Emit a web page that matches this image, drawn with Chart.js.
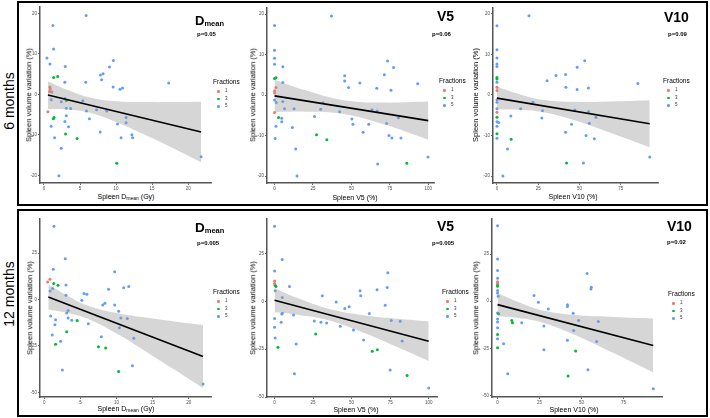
<!DOCTYPE html>
<html>
<head>
<meta charset="utf-8">
<script src="https://cdn.jsdelivr.net/npm/chart.js@4.4.0/dist/chart.umd.min.js"></script>
<style>
  body { margin: 0; background: #fff; font-family: "Liberation Sans", Arial, sans-serif; }
  #wrap { position: relative; width: 710px; height: 418px; overflow: hidden; }
  .box { position: absolute; border: 2px solid #000; box-sizing: border-box; }
  .t { position: absolute; white-space: nowrap; line-height: 1; color: #000; }
  .c { transform: translate(-50%, -50%); }
  .rot { transform: translate(-50%, -50%) rotate(-90deg); }
  canvas { position: absolute; }
  .dot { position: absolute; width: 2.6px; height: 2.6px; border-radius: 50%; }
</style>
</head>
<body>
<div id="wrap">
  <div class="box" style="left:17px;top:1px;width:691px;height:205px"></div>
  <div class="box" style="left:17px;top:209px;width:691px;height:208px"></div>
  <div class="t rot" style="left:9px;top:101px;font-size:14px">6 months</div>
  <div class="t rot" style="left:9px;top:294px;font-size:14px">12 months</div>
</div>
<script>
// tick labels
const m6YTicks = [20, 10, 0, -10, -20];
const m12YTicks = [25, 0, -25, -50];
const dmeanTicks = [0, 5, 10, 15, 20];
const v5Ticks = [0, 25, 50, 75, 100];
const v10Ticks = [0, 25, 50, 75];

// 6 months - Dmean
const m6DmeanX = [5.85,1.24,1.34,0.41,0.83,2.95,9.63,9.08,8.2,7.83,8.0,1.34,1.9,2.9,5.8,9.6,10.55,10.9,17.3,0.83,0.88,0.78,1.1,1.0,0.55,2.4,2.9,3.1,5.4,3.1,3.7,5.9,7.3,8.7,1.4,1.3,3.1,6.3,2.9,3.4,1.0,11.4,11.4,10.2,7.8,3.0,4.6,1.47,10.7,12.2,12.3,2.4,10.1,2.07,21.8];
const m6DmeanY = [19.5,17.0,11.2,9.0,7.5,6.9,8.4,6.8,5.1,4.8,3.6,4.2,4.4,3.0,3.0,1.8,1.3,1.6,2.8,1.8,1.4,0.7,0.6,-1.3,-4.3,-1.8,-1.0,-1.5,-1.6,-3.4,-3.5,-4.1,-3.8,-4.1,-5.7,-6.0,-5.3,-6.0,-6.7,-8.0,-7.9,-5.7,-7.0,-7.3,-9.3,-9.8,-10.9,-10.7,-10.7,-10.0,-10.7,-13.3,-17.0,-20.1,-15.4];
const m6DmeanF = [5,5,5,5,5,5,5,5,5,5,5,3,3,5,5,5,5,5,5,1,1,1,1,5,1,5,5,3,5,5,5,5,5,5,3,3,5,5,5,5,5,5,5,5,5,3,3,5,5,5,5,5,3,5,5];
const m6DmeanFitX = [0.55, 21.8];
const m6DmeanFitY = [-0.16, -9.3];
const m6DmeanBandX = [0.55, 3, 6.5, 10, 14, 18, 21.8];
const m6DmeanBandUp = [3.2, 1.3, -0.8, -1.7, -1.9, -1.9, -1.8];
const m6DmeanBandLo = [-3.6, -3.7, -4.6, -6.8, -10.0, -13.4, -16.8];

// 6 months - V5
const m6V5X = [37,0,0,0,0,5.4,0.9,0,5.4,0.9,0,0,0,1.1,5.4,0,6.5,2.6,4.7,4.7,0.9,11.6,0.4,13.8,14.6,12.7,26,27.3,30,31.6,34,45.6,45.6,48.2,42.4,50.3,51,55.5,57.6,61.3,63.4,66.5,67.1,71.4,73.5,72.9,74.4,75.7,76.3,77.4,80.6,82.2,66.7,86,93.1,99.8];
const m6V5Y = [19.5,17.2,11.1,9.1,7.6,7.0,4.3,4.1,3.1,1.9,1.1,0.5,-1.2,-1.8,-1.6,-4.3,-3.4,-5.5,-5.7,-6.6,-7.7,-8.0,-10.7,-13.3,-20,-3.4,-5.3,-9.8,-3.5,-1.9,-11.0,4.8,3.5,1.9,-4.1,-5.9,-7.2,3.0,-9.2,-7.2,-3.6,1.7,-17,5.0,8.4,-7.0,-10.0,1.2,-10.6,6.8,-5.6,-10.6,-3.9,-16.8,2.8,-15.3];
const m6V5F = [5,5,5,5,5,5,3,3,5,1,1,1,5,5,5,1,5,3,5,5,5,5,5,5,5,5,5,3,5,5,3,5,5,5,5,5,5,5,5,5,5,5,5,5,5,5,5,5,5,5,5,5,5,3,5,5];
const m6V5FitX = [0, 100];
const m6V5FitY = [-0.2, -6.3];
const m6V5BandX = [0, 20, 45, 70, 100];
const m6V5BandUp = [3.8, 1.2, -1.25, -1.85, -1.6];
const m6V5BandLo = [-4.2, -4.1, -4.65, -7.1, -11.0];

// 6 months - V10
const m6V10X = [19.4,0,0,0,0,0,0,0,0,0,0,0,0,0,0,0,0,0,0,0,1,8.4,8.6,6.4,3.6,14.4,21.8,27.6,27.2,30.4,35.8,41.6,41.8,41.6,45.2,42.2,47.2,48.6,48.6,52.4,53.2,54,55.4,55.6,56,59,60,85.4,92.6];
const m6V10Y = [19.5,17.0,11.1,9.1,7.6,7.0,4.3,3.9,3.1,1.9,1.1,-1.2,-1.8,-3.4,-4.3,-5.5,-6.6,-7.7,-9.6,-10.7,-6.8,-5.2,-10.9,-13.3,-20,-3.4,-1.8,-3.9,-5.7,3.5,4.8,5.0,1.9,-9.2,-7.2,-16.8,-3.7,6.8,1.3,-16.8,8.4,-10,1.7,-4.1,-7,-10.8,-5.5,2.8,-15.3];
const m6V10F = [5,5,5,5,5,5,3,3,5,1,1,5,5,5,1,3,5,5,3,5,5,5,3,5,5,5,5,5,5,5,5,5,5,5,5,3,5,5,5,5,5,5,5,5,5,5,5,5,5];
const m6V10FitX = [0, 92.6];
const m6V10FitY = [-0.8, -7.1];
const m6V10BandX = [0, 15, 27.5, 45, 70, 92.6];
const m6V10BandUp = [2.0, 0.0, -1.2, -1.7, -1.6, -1.3];
const m6V10BandLo = [-3.6, -3.7, -4.2, -6.0, -9.5, -12.9];

// 12 months - Dmean
const m12DmeanX = [1.33,2.9,1.24,9.75,0.46,0.78,1.3,1.9,3.0,1.15,0.8,8.9,11.0,11.7,5.5,5.9,5.2,3.0,8.1,8.4,9.75,10.3,10.6,11.5,10.4,0.87,1.56,3.3,3.1,3.3,3.8,4.55,1.47,6.1,1.1,3.1,2.25,1.56,7.9,7.5,8.5,12.4,12.2,2.5,10.3,22.0];
const m12DmeanY = [39.5,22.0,16.3,15.0,9.5,10.9,8.6,7.7,7.9,5.9,4.6,5.5,6.4,7.1,3.2,2.9,-0.4,2.3,-3.0,-2.0,-2.9,-6.3,-10,-10.2,-15.2,-8.8,-10.9,-5.9,-7.3,-10,-11.1,-11.3,-13.6,-13,-19.1,-17.3,-22.5,-24.1,-20,-25.4,-26.1,-20.9,-35.7,-37.9,-38.8,-45.5];
const m12DmeanF = [5,5,5,5,1,1,3,3,5,5,5,5,5,5,5,5,5,5,5,5,5,5,5,5,5,5,5,5,5,5,5,3,5,5,5,3,5,3,5,3,3,5,5,5,3,5];
const m12DmeanFitX = [0.55, 22];
const m12DmeanFitY = [1.4, -30.7];
const m12DmeanBandX = [0.55, 3, 6, 10, 14, 18, 22];
const m12DmeanBandUp = [8.1, 2.5, -3.2, -7.3, -9.7, -11.8, -13.7];
const m12DmeanBandLo = [-5.3, -7.0, -10.4, -18.3, -27.8, -37.7, -47.7];

// 12 months - V5
const m12V5X = [0,5,0,0,0,0.4,0.9,0.4,9.7,5,31,40,45.6,48.4,55.5,55.9,66.5,73.5,73.1,71.8,61.5,75.7,81.5,82.8,5,4.7,12.3,0,4.3,0,25.8,30.1,33.8,42.6,51.2,26.7,0.4,14,2.2,57.8,63.4,66.7,75,12.9,86,100];
const m12V5Y = [39.4,22,16,10.8,9.4,8.5,7.8,5.6,7.8,2.1,3,-0.2,-3.6,-2.8,5.6,3,6.1,15.1,7.3,-1.9,-6.3,-10,-10.4,-20.7,-6.1,-6.6,-7.1,-8.9,-10.9,-13.5,-10.2,-10.9,-11.3,-13,-14.9,-17,-19.1,-22.2,-24,-20.1,-26,-25.3,-35.8,-37.8,-38.7,-45.3];
const m12V5F = [5,5,5,1,1,3,3,5,5,5,5,5,5,5,5,5,5,5,5,5,5,5,5,5,5,5,5,5,5,5,5,5,5,5,5,3,5,5,3,5,3,3,5,5,3,5];
const m12V5FitX = [0, 100];
const m12V5FitY = [0.7, -20.8];
const m12V5BandX = [0, 15, 35.5, 60, 80, 100];
const m12V5BandUp = [7.0, 1.8, -3.9, -7.4, -9.0, -10.4];
const m12V5BandLo = [-5.6, -6.9, -9.9, -17.0, -24.0, -31.2];

// 12 months - V10
const m12V10X = [0,0,0,0,0,0,0,0,0,0,0.4,21.7,24.3,30.2,41.6,41.6,45,48.3,45.3,53.3,55.6,55.8,60,59,41.6,0,0.6,0,0,0,0,0,0,3.6,8.5,8.9,14.4,27.6,27.6,46.5,53.8,6.1,42,92.7];
const m12V10Y = [40.1,22.4,16.3,12.2,10.4,9.7,8.7,8,5.7,4.4,2.7,3,-0.5,-4.1,-1.9,-2.8,-6.4,-10.2,-15.5,14.8,6.5,7.4,-10.8,-21.4,-20.8,-6.2,-6.7,-9.4,-11.1,-14.1,-17.7,-20,-24.7,-22.6,-10.2,-11.5,-11.5,-13.2,-25.8,-26.5,-36.4,-38.5,-39.8,-46.5];
const m12V10F = [5,5,5,5,1,1,3,3,5,5,5,5,5,5,5,5,5,5,5,5,5,5,5,5,5,5,3,5,5,5,3,5,3,5,3,3,5,5,5,3,5,5,3,5];
const m12V10FitX = [0, 92.7];
const m12V10FitY = [-1.8, -23.5];
const m12V10BandX = [0, 12, 25.6, 45, 70, 92.7];
const m12V10BandUp = [4.4, -0.3, -4.6, -7.2, -8.4, -9.2];
const m12V10BandLo = [-8.0, -8.9, -11.0, -17.5, -27.9, -37.8];

const fractions = [1, 3, 5];
const fracColors = { 1: '#F8766D', 3: '#00BA38', 5: '#619CFF' };
const FONT = '"Liberation Sans", Arial, sans-serif';

// chart area (page px) and text placement for each panel
const panels = [
  { L: 40, T: 6, R: 212, B: 183, xMin: -0.55, xMax: 23.17, yMin: -21.9, yMax: 21.6,
    xTicks: dmeanTicks, yTicks: m6YTicks, xs: m6DmeanX, ys: m6DmeanY, fs: m6DmeanF,
    fitX: m6DmeanFitX, fitY: m6DmeanFitY, bandX: m6DmeanBandX, bandUp: m6DmeanBandUp, bandLo: m6DmeanBandLo,
    title: 'D', sub: 'mean', tX: 195, tY: 11.5, tSize: 13, p: 'p=0.05', pX: 197, pY: 30.5,
    legX: 213, legY: 82, yTitleX: 29, xTitleX: 126, xTitleY: 197, xTitle: 'Spleen D<sub>mean</sub> (Gy)' },
  { L: 267, T: 7, R: 435, B: 183, xMin: -4.9, xMax: 103.7, yMin: -21.7, yMax: 21.5,
    xTicks: v5Ticks, yTicks: m6YTicks, xs: m6V5X, ys: m6V5Y, fs: m6V5F,
    fitX: m6V5FitX, fitY: m6V5FitY, bandX: m6V5BandX, bandUp: m6V5BandUp, bandLo: m6V5BandLo,
    title: 'V5', sub: '', tX: 437, tY: 8.2, tSize: 14, p: 'p=0.06', pX: 432, pY: 30.5,
    legX: 439, legY: 81, yTitleX: 253, xTitleX: 355, xTitleY: 197, xTitle: 'Spleen V5 (%)' },
  { L: 493, T: 7, R: 659, B: 183, xMin: -2.4, xMax: 97.6, yMin: -21.7, yMax: 21.4,
    xTicks: v10Ticks, yTicks: m6YTicks, xs: m6V10X, ys: m6V10Y, fs: m6V10F,
    fitX: m6V10FitX, fitY: m6V10FitY, bandX: m6V10BandX, bandUp: m6V10BandUp, bandLo: m6V10BandLo,
    title: 'V10', sub: '', tX: 664, tY: 8.9, tSize: 14, p: 'p=0.09', pX: 668, pY: 30.5,
    legX: 663, legY: 81, yTitleX: 476, xTitleX: 573, xTitleY: 196, xTitle: 'Spleen V10 (%)' },
  { L: 40, T: 218, R: 212, B: 397, xMin: -0.6, xMax: 23.1, yMin: -52.5, yMax: 43.4,
    xTicks: dmeanTicks, yTicks: m12YTicks, xs: m12DmeanX, ys: m12DmeanY, fs: m12DmeanF,
    fitX: m12DmeanFitX, fitY: m12DmeanFitY, bandX: m12DmeanBandX, bandUp: m12DmeanBandUp, bandLo: m12DmeanBandLo,
    title: 'D', sub: 'mean', tX: 195, tY: 218.5, tSize: 13.5, p: 'p=0.005', pX: 197, pY: 240,
    legX: 213, legY: 292, yTitleX: 30, xTitleX: 126, xTitleY: 409, xTitle: 'Spleen D<sub>mean</sub> (Gy)' },
  { L: 267, T: 218, R: 438, B: 397, xMin: -4.9, xMax: 105.4, yMin: -50, yMax: 43.2,
    xTicks: v5Ticks, yTicks: m12YTicks, xs: m12V5X, ys: m12V5Y, fs: m12V5F,
    fitX: m12V5FitX, fitY: m12V5FitY, bandX: m12V5BandX, bandUp: m12V5BandUp, bandLo: m12V5BandLo,
    title: 'V5', sub: '', tX: 437, tY: 218.2, tSize: 14, p: 'p=0.005', pX: 432, pY: 240,
    legX: 442, legY: 292, yTitleX: 253, xTitleX: 356, xTitleY: 409, xTitle: 'Spleen V5 (%)' },
  { L: 492, T: 218, R: 663, B: 397, xMin: -3.3, xMax: 97.9, yMin: -50.9, yMax: 43.7,
    xTicks: v10Ticks, yTicks: m12YTicks, xs: m12V10X, ys: m12V10Y, fs: m12V10F,
    fitX: m12V10FitX, fitY: m12V10FitY, bandX: m12V10BandX, bandUp: m12V10BandUp, bandLo: m12V10BandLo,
    title: 'V10', sub: '', tX: 667, tY: 218.2, tSize: 14, p: 'p=0.02', pX: 667, pY: 239,
    legX: 668, legY: 294, yTitleX: 476, xTitleX: 574, xTitleY: 409, xTitle: 'Spleen V10 (%)' }
];

const wrap = document.getElementById('wrap');
const padT = 3, padR = 3, axW = 12, axH = 10;

function addText(html, style, cls) {
  const d = document.createElement('div');
  d.className = 't ' + (cls || '');
  d.setAttribute('style', style);
  d.innerHTML = html;
  wrap.appendChild(d);
  return d;
}

function pts(xs, ys) {
  return xs.map((x, i) => ({ x: x, y: ys[i] }));
}

panels.forEach(p => {
  const cv = document.createElement('canvas');
  cv.width = p.R - p.L + axW + padR;
  cv.height = p.B - p.T + axH + padT;
  cv.style.left = (p.L - axW) + 'px';
  cv.style.top = (p.T - padT) + 'px';
  wrap.appendChild(cv);

  const pointSets = fractions.map(f => ({
    type: 'scatter',
    data: p.xs.map((x, i) => ({ x: x, y: p.ys[i], f: p.fs[i] })).filter(d => d.f === f),
    backgroundColor: fracColors[f],
    borderWidth: 0,
    pointRadius: 1.5,
    order: 3
  }));

  const tickFont = { size: 4.5, family: FONT };
  const axisCommon = {
    type: 'linear',
    grid: { drawOnChartArea: false, drawTicks: true, tickLength: 2, color: '#444', lineWidth: 0.8 },
    border: { display: true, color: '#555', width: 1.5 },
    ticks: { font: tickFont, color: '#4d4d4d', padding: 1, maxRotation: 0, autoSkip: false }
  };

  new Chart(cv, {
    type: 'scatter',
    data: {
      datasets: pointSets.concat([
        { type: 'line', data: pts(p.bandX, p.bandUp), borderColor: 'rgba(0,0,0,0)', borderWidth: 0,
          pointRadius: 0, tension: 0.4, fill: false, order: 2 },
        { type: 'line', data: pts(p.bandX, p.bandLo), borderColor: 'rgba(0,0,0,0)', borderWidth: 0,
          pointRadius: 0, tension: 0.4, fill: '-1', backgroundColor: 'rgba(153,153,153,0.4)', order: 2 },
        { type: 'line', data: pts(p.fitX, p.fitY), borderColor: '#000', borderWidth: 1.6,
          pointRadius: 0, fill: false, order: 1 }
      ])
    },
    options: {
      responsive: false,
      animation: false,
      layout: { padding: { top: padT, right: padR, left: 0, bottom: 0 } },
      plugins: { legend: { display: false }, tooltip: { enabled: false } },
      scales: {
        x: Object.assign({}, axisCommon, {
          min: p.xMin, max: p.xMax,
          afterFit: s => { s.height = axH; },
          afterBuildTicks: s => { s.ticks = p.xTicks.map(v => ({ value: v })); }
        }),
        y: Object.assign({}, axisCommon, {
          min: p.yMin, max: p.yMax,
          afterFit: s => { s.width = axW; },
          afterBuildTicks: s => { s.ticks = p.yTicks.map(v => ({ value: v })); }
        })
      }
    }
  });

  // panel title and p-value
  addText('<span style="font-size:' + p.tSize + 'px">' + p.title + '</span>' +
    (p.sub ? '<span style="font-size:7.5px;position:relative;top:1px">' + p.sub + '</span>' : ''),
    'left:' + p.tX + 'px;top:' + p.tY + 'px;font-weight:bold');
  addText(p.p, 'left:' + p.pX + 'px;top:' + p.pY + 'px;font-size:6px;font-weight:bold');

  // legend
  addText('Fractions', 'left:' + p.legX + 'px;top:' + (p.legY - 3.5) + 'px;font-size:6.5px');
  fractions.forEach((f, k) => {
    const cy = p.legY + 9.5 + k * 7.5;
    const d = document.createElement('div');
    d.className = 'dot';
    d.style.left = (p.legX + 4) + 'px';
    d.style.top = (cy - 1.3) + 'px';
    d.style.background = fracColors[f];
    wrap.appendChild(d);
    addText(String(f), 'left:' + (p.legX + 12) + 'px;top:' + (cy - 2.3) + 'px;font-size:4.5px;color:#333');
  });

  // axis titles
  addText('Spleen volume variation (%)', 'left:' + p.yTitleX + 'px;top:' + ((p.T + p.B) / 2) + 'px;font-size:7.5px', 'rot');
  addText(p.xTitle.replace('<sub>', '<sub style="font-size:5px;vertical-align:-1px">'),
    'left:' + p.xTitleX + 'px;top:' + p.xTitleY + 'px;font-size:7px', 'c');
});
</script>
</body>
</html>
